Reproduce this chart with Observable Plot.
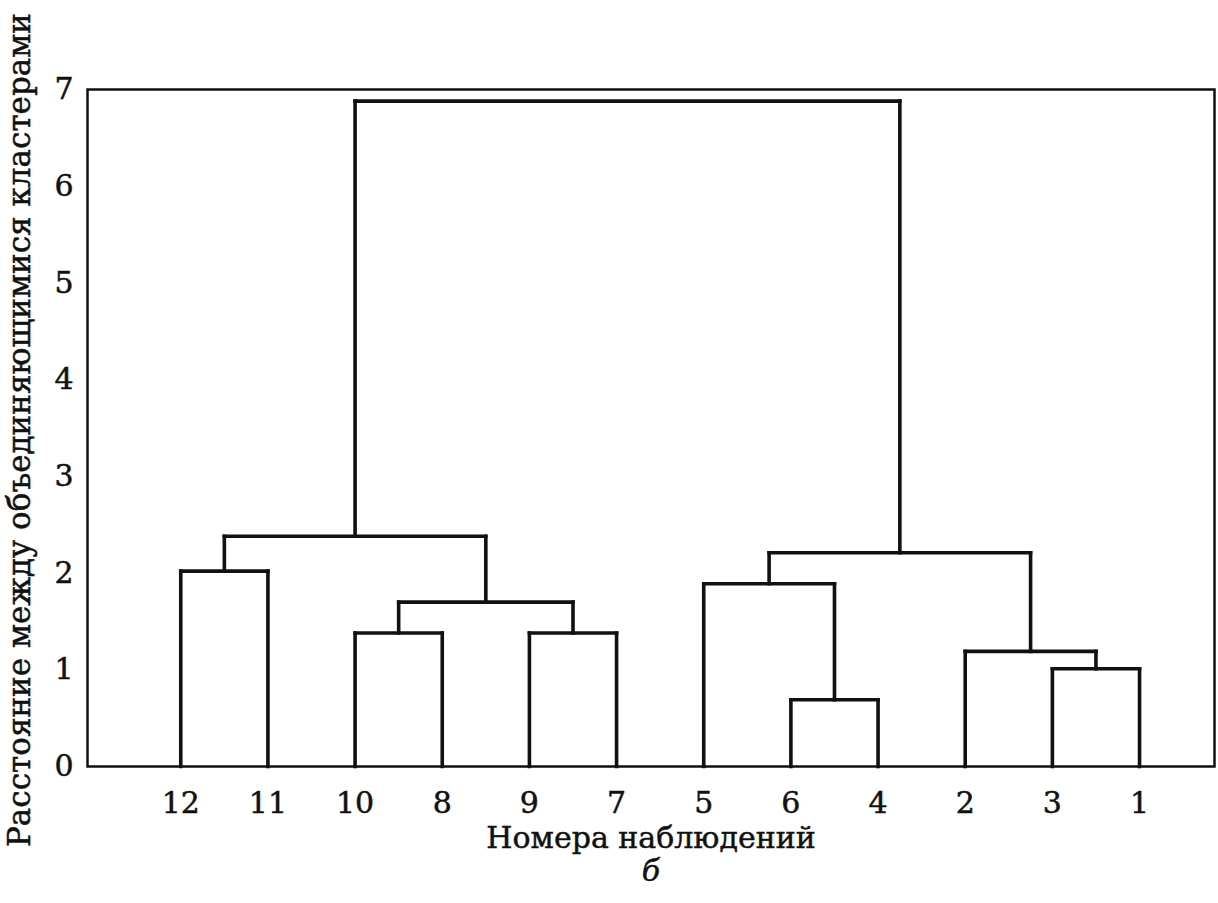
<!DOCTYPE html>
<html>
<head>
<meta charset="utf-8">
<script src="https://cdn.jsdelivr.net/npm/d3@7"></script>
<script src="https://cdn.jsdelivr.net/npm/@observablehq/plot@0.6"></script>
<style>
  html, body { margin: 0; padding: 0; background: #fff; }
  svg { display: block; }
  svg text { stroke: #111; stroke-width: 0.5px; paint-order: stroke; }
</style>
</head>
<body>
<div id="chart"></div>
<script>
// Leaf order along the x axis (observation numbers)
const leafOrder = ["12", "11", "10", "8", "9", "7", "5", "6", "4", "2", "3", "1"];
// Merges: node id, left child, right child, merge distance
const nodeIds    = ["n0", "n1", "n2", "n3", "n4", "n5", "n6", "n7", "n8", "n9", "n10"];
const mergeLeft  = ["12", "10", "9",  "n1", "n0", "6",  "5",  "3",  "2",  "n6", "n4"];
const mergeRight = ["11", "8",  "7",  "n2", "n3", "4",  "n5", "1",  "n7", "n8", "n9"];
const mergeDist  = [2.02, 1.38, 1.38, 1.70, 2.38, 0.69, 1.89, 1.01, 1.19, 2.21, 6.88];
const yTicks = [0, 1, 2, 3, 4, 5, 6, 7];

// Build node positions (leaf index units) and heights
const pos = new Map(leafOrder.map((k, i) => [k, {x: i, h: 0}]));
const links = [];
nodeIds.forEach((id, i) => {
  const a = pos.get(mergeLeft[i]), b = pos.get(mergeRight[i]);
  const h = mergeDist[i];
  pos.set(id, {x: (a.x + b.x) / 2, h});
  links.push({x1: a.x, y1: a.h, x2: a.x, y2: h});
  links.push({x1: b.x, y1: b.h, x2: b.x, y2: h});
  links.push({x1: a.x, y1: h, x2: b.x, y2: h});
});

const font = "'DejaVu Serif', 'Liberation Serif', serif";

const chart = Plot.plot({
  width: 1218,
  height: 903,
  marginLeft: 87,
  marginRight: 4,
  marginTop: 89,
  marginBottom: 137,
  style: {fontFamily: font, fontSize: "30px", color: "#111", background: "#fff"},
  x: {type: "linear", domain: [-1.07, 11.86]},
  y: {domain: [0, 7]},
  marks: [
    Plot.frame({stroke: "#111", strokeWidth: 2.5}),
    Plot.link(links, {x1: "x1", y1: "y1", x2: "x2", y2: "y2", stroke: "#111", strokeWidth: 3.6, strokeLinecap: "square"}),
    Plot.axisY({ticks: yTicks, tickFormat: d3.format("d"), tickSize: 0, tickPadding: 14, label: null, fontSize: 30}),
    Plot.axisX({ticks: d3.range(leafOrder.length), tickFormat: i => leafOrder[i], tickSize: 0, tickPadding: 25, label: null, fontSize: 30}),
    Plot.text(["Расстояние между объединяющимися кластерами"], {frameAnchor: "left", dx: -67, dy: 2, rotate: -90, textAnchor: "middle", lineAnchor: "middle", fontSize: 31, fill: "#111"}),
    Plot.text(["Номера наблюдений"], {frameAnchor: "bottom", dy: 72, lineAnchor: "middle", fontSize: 30, fill: "#111"}),
    Plot.text(["б"], {frameAnchor: "bottom", dy: 105, lineAnchor: "middle", fontSize: 30, fontStyle: "italic", fill: "#111"})
  ]
});
document.getElementById("chart").appendChild(chart);
</script>
</body>
</html>
